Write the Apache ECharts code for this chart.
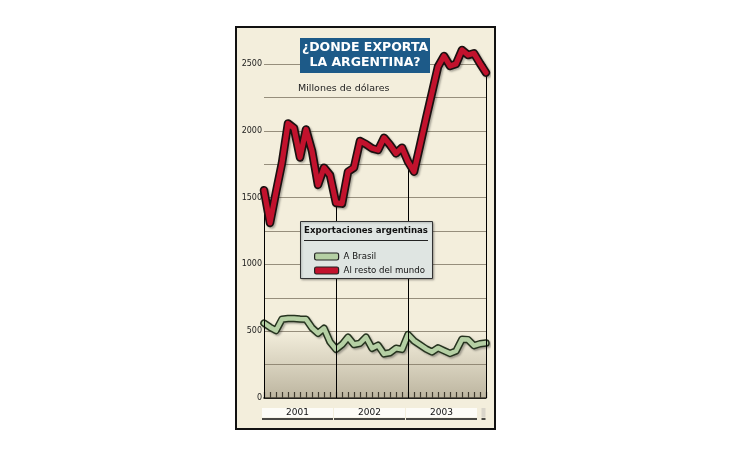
<!DOCTYPE html>
<html><head><meta charset="utf-8">
<script src="https://cdn.jsdelivr.net/npm/echarts@6/dist/echarts.min.js"></script>
<style>html,body{margin:0;padding:0;background:#fff}#c{width:730px;height:460px}</style>
</head><body><div id="c"></div>
<script>
const months = [
  'Ene 2001','Feb 2001','Mar 2001','Abr 2001','May 2001','Jun 2001','Jul 2001','Ago 2001','Sep 2001','Oct 2001','Nov 2001','Dic 2001',
  'Ene 2002','Feb 2002','Mar 2002','Abr 2002','May 2002','Jun 2002','Jul 2002','Ago 2002','Sep 2002','Oct 2002','Nov 2002','Dic 2002',
  'Ene 2003','Feb 2003','Mar 2003','Abr 2003','May 2003','Jun 2003','Jul 2003','Ago 2003','Sep 2003','Oct 2003','Nov 2003','Dic 2003',
  'Ene 2004','Feb 2004'
];
const aBrasil = [
  560, 530, 505, 590, 595, 595, 592, 590, 525, 484, 522, 420,
  365, 400, 455, 400, 410, 455, 372, 395, 330, 339, 372, 364,
  475, 428, 398, 367, 345, 375, 354, 334, 352, 440, 437, 392,
  406, 411
];
const alResto = [
  1555, 1310, 1540, 1760, 2055, 2020, 1800, 2010, 1850, 1595, 1724, 1669,
  1460, 1455, 1694, 1724, 1924, 1900, 1869, 1856, 1948, 1894, 1831, 1874,
  1769, 1694, 1890, 2090, 2285, 2480, 2560, 2485, 2500, 2605, 2567, 2580,
  2505, 2435
];
const yLabels = [0, 500, 1000, 1500, 2000, 2500];
const years = ['2001', '2002', '2003', ''];
const yearStart = [0, 12, 24, 36];
const dropIdx = [0, 12, 24, 36, 37];

const FONT = 'DejaVu Sans';
const chart = echarts.init(document.getElementById('c'), null, {renderer: 'canvas'});

function staticGraphics() {
  return [
    {id: 'panel', type: 'rect', z: -100, shape: {x: 236, y: 27, width: 259, height: 402},
     style: {fill: '#f3eedc', stroke: '#111', lineWidth: 2}},
    {id: 'tbox', type: 'rect', z: 100, shape: {x: 300, y: 38, width: 130, height: 35},
     style: {fill: '#1d5a88'}},
    {id: 't1', type: 'text', z: 101, x: 365, y: 48,
     style: {text: '¿DONDE EXPORTA', fill: '#fff', font: 'bold 12.5px "DejaVu Sans"', textAlign: 'center', textVerticalAlign: 'middle'}},
    {id: 't2', type: 'text', z: 101, x: 365, y: 63,
     style: {text: 'LA ARGENTINA?', fill: '#fff', font: 'bold 12.5px "DejaVu Sans"', textAlign: 'center', textVerticalAlign: 'middle'}},
    {id: 'unit', type: 'text', z: 20, x: 298, y: 89,
     style: {text: 'Millones de dólares', fill: '#222', font: '9.5px "DejaVu Sans"', textAlign: 'left', textVerticalAlign: 'middle'}},
    {id: 'lbox', type: 'rect', z: 50, shape: {x: 300.5, y: 221.5, width: 132, height: 57},
     style: {fill: '#dfe5e2', stroke: '#333', lineWidth: 1, shadowColor: 'rgba(0,0,0,0.25)', shadowBlur: 2, shadowOffsetX: 1, shadowOffsetY: 1}},
    {id: 'ltitle', type: 'text', z: 55, x: 366, y: 231,
     style: {text: 'Exportaciones argentinas', fill: '#111', font: 'bold 8.6px "DejaVu Sans"', textAlign: 'center', textVerticalAlign: 'middle'}},
    {id: 'lline', type: 'line', z: 55, shape: {x1: 304, y1: 240.5, x2: 428, y2: 240.5},
     style: {stroke: '#222', lineWidth: 1.2}}
  ];
}

const option = {
  animation: false,
  grid: {left: 264, right: 244, top: 64, bottom: 62},
  xAxis: {
    type: 'category', data: months, boundaryGap: false,
    axisLine: {lineStyle: {color: '#000', width: 1.5}},
    axisTick: {inside: true, length: 6, interval: 0, lineStyle: {color: '#000', width: 1.2}},
    axisLabel: {show: false}, splitLine: {show: false}
  },
  yAxis: {
    type: 'value', min: 0, max: 2500, interval: 250,
    axisLine: {show: false}, axisTick: {show: false},
    axisLabel: {formatter: v => yLabels.includes(v) ? String(v) : '', fontFamily: FONT, fontSize: 8, color: '#1a1a1a', margin: 2},
    splitLine: {lineStyle: {color: '#968e7c', width: 1.2}}
  },
  legend: {
    data: ['A Brasil', 'Al resto del mundo'], orient: 'vertical', left: 309, top: 246,
    itemWidth: 24, itemHeight: 7, itemGap: 3, icon: 'roundRect', selectedMode: false, z: 60,
    itemStyle: {borderColor: '#222', borderWidth: 1.2},
    textStyle: {fontFamily: FONT, fontSize: 8.6, color: '#111', lineHeight: 11}
  },
  graphic: {elements: staticGraphics()},
  series: [
    {type: 'line', name: '_base', data: alResto, symbol: 'none', silent: true, z: 1,
     lineStyle: {opacity: 0}, tooltip: {show: false},
     markArea: {silent: true,
       itemStyle: {color: {type: 'linear', x: 0, y: 0, x2: 0, y2: 1, colorStops: [
         {offset: 0, color: 'rgba(135,125,100,0)'}, {offset: 1, color: 'rgba(135,125,100,0.5)'}]}},
       data: [[{yAxis: 0}, {yAxis: 500}]]},
     markLine: {silent: true, symbol: 'none', label: {show: false}, emphasis: {disabled: true},
       lineStyle: {color: '#000', width: 1, type: 'solid'},
       data: dropIdx.map(i => [{coord: [months[i], 0]}, {coord: [months[i], alResto[i]]}])}
    },
    {type: 'line', name: '_brasilOutline', data: aBrasil, symbol: 'none', z: 3, clip: false, silent: true,
     lineStyle: {color: '#26331f', width: 7.5, join: 'round', cap: 'round',
       shadowColor: 'rgba(0,0,0,0.3)', shadowBlur: 2, shadowOffsetX: 1.5, shadowOffsetY: 1.5}},
    {type: 'line', name: 'A Brasil', data: aBrasil, symbol: 'none', z: 4, clip: false,
     lineStyle: {color: '#b5d0a4', width: 4.5, join: 'round', cap: 'round'},
     itemStyle: {color: '#b5d0a4'}},
    {type: 'line', name: '_restoOutline', data: alResto, symbol: 'none', z: 5, clip: false, silent: true,
     lineStyle: {color: '#1a1010', width: 8.5, join: 'round', cap: 'round',
       shadowColor: 'rgba(0,0,0,0.3)', shadowBlur: 2, shadowOffsetX: 1.5, shadowOffsetY: 1.5}},
    {type: 'line', name: 'Al resto del mundo', data: alResto, symbol: 'none', z: 6, clip: false,
     lineStyle: {color: '#c2122d', width: 5.2, join: 'round', cap: 'round'},
     itemStyle: {color: '#c2122d'}}
  ]
};
chart.setOption(option);

// year label boxes under the axis, positioned through the category scale
const yearEls = [];
years.forEach((y, k) => {
  const px0 = chart.convertToPixel({xAxisIndex: 0}, months[yearStart[k]]);
  let x0, x1;
  if (k < years.length - 1) {
    x0 = px0 - 2;
    x1 = chart.convertToPixel({xAxisIndex: 0}, months[yearStart[k + 1]]) - 3;
  } else {
    x0 = px0 + 1.5;
    x1 = chart.convertToPixel({xAxisIndex: 0}, months[months.length - 1]) - 0.5;
  }
  yearEls.push({id: 'yb' + k, type: 'rect', z: 20, shape: {x: x0, y: 408, width: x1 - x0, height: 9.5},
    style: {fill: k < years.length - 1 ? '#fdfcf7' : '#d9d5ca'}});
  yearEls.push({id: 'yl' + k, type: 'line', z: 21, shape: {x1: x0, y1: 419, x2: x1, y2: 419},
    style: {stroke: '#111', lineWidth: 1.5}});
  if (y) yearEls.push({id: 'yt' + k, type: 'text', z: 22, x: (x0 + x1) / 2, y: 413,
    style: {text: y, fill: '#111', font: '9px "DejaVu Sans"', textAlign: 'center', textVerticalAlign: 'middle'}});
});
chart.setOption({graphic: {elements: staticGraphics().concat(yearEls)}});
</script>
</body></html>
